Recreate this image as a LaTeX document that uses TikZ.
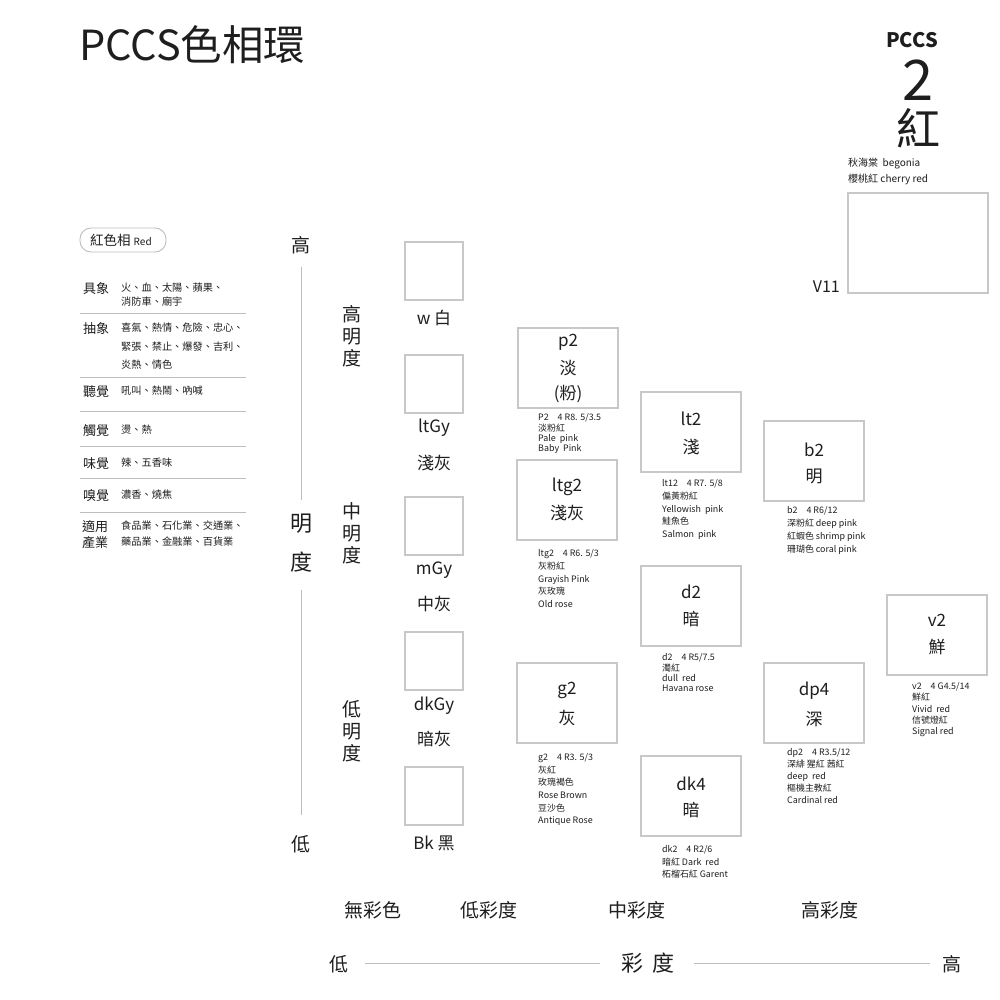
\documentclass[tikz,border=0pt]{standalone}
\usepackage{fontspec}
\setmainfont{Noto Sans CJK TC}
\definecolor{ink}{HTML}{1E1E1E}
\definecolor{bx}{HTML}{C8C8C8}
\definecolor{ln}{HTML}{BDBDBD}
\begin{document}
\begin{tikzpicture}[x=1pt,y=-1pt,
  cbox/.style={draw=bx, line width=1.1pt, minimum width=100pt, minimum height=80pt, inner sep=0},
  gbox/.style={draw=bx, line width=1.1pt, minimum width=58pt, minimum height=58pt, inner sep=0},
  big/.style={font=\fontsize{17}{20}\selectfont, text=ink, inner sep=0},
  lbl/.style={font=\fontsize{8.9}{#1}\selectfont, text=ink, align=left, anchor=north west, inner sep=0},
  lbl/.default=12.5,
  key/.style={font=\fontsize{13}{15}\selectfont, text=ink, anchor=west, inner sep=0},
  body/.style={font=\fontsize{10.2}{#1}\selectfont, text=ink, align=left, anchor=north west, inner sep=0},
  body/.default=14,
  sepl/.style={draw=ln, line width=0.8pt},
  axis/.style={draw=ln, line width=0.9pt},
  vt/.style={font=\fontsize{19}{22}\selectfont, text=ink, align=center, inner sep=0},
  axt/.style={font=\fontsize{19}{22}\selectfont, text=ink, inner sep=0},
  axb/.style={font=\fontsize{22}{26}\selectfont, text=ink, inner sep=0},
  bt/.style={font=\fontsize{19}{22}\selectfont, text=ink, inner sep=0}]
\useasboundingbox[fill=white] (0,0) rectangle (1000,1000);

% title
\node[anchor=west, inner sep=0, text=ink, font=\fontsize{41.5}{46}\selectfont] (title) at (79,45) {PCCS色相環};
% top right
\node[inner sep=0, text=ink, font=\fontsize{20}{22}\bfseries] (pccs) at (912,40) {PCCS};
\node[inner sep=0, text=ink, font=\fontsize{56}{60}\selectfont] (num) at (918,80) {2};
\node[inner sep=0, text=ink, font=\fontsize{44}{48}\selectfont] (hue) at (918,128) {紅};
\node[body=16, font=\fontsize{10}{16}\selectfont] (names) at (848,157.5) {秋海棠\ \ begonia\\櫻桃紅 cherry red};
\node[draw=bx, line width=1.1pt, minimum width=140pt, minimum height=100pt, inner sep=0] (v11box) at (918,243) {};
\node[anchor=east, inner sep=0, text=ink, font=\fontsize{16}{18}\selectfont] (v11) at (840,287) {V11};

% left panel
\node[draw=ln, line width=0.9pt, rounded corners=11pt, minimum width=86pt, minimum height=24pt, inner sep=0] (pill) at (123,240) {};
\node[anchor=west, inner sep=0, text=ink, font=\fontsize{13.5}{15}\selectfont] (pillt) at (90,240) {紅色相 {\fontsize{10}{12}\selectfont Red}};

\node[key] (k1) at (83,289) {具象};
\node[body=14] (b1) at (121,283) {火、血、太陽、蘋果、\\消防車、廟宇};
\draw[sepl] (80,313) -- (246,313);
\node[key] (k2) at (83,329) {抽象};
\node[body=18.5] (b2t) at (121,323) {喜氣、熱情、危險、忠心、\\緊張、禁止、爆發、吉利、\\炎熱、情色};
\draw[sepl] (80,377) -- (246,377);
\node[key] (k3) at (83,392) {聽覺};
\node[body] (b3) at (121,386) {吼叫、熱鬧、吶喊};
\draw[sepl] (80,411) -- (246,411);
\node[key] (k4) at (83,431) {觸覺};
\node[body] (b4) at (121,425) {燙、熱};
\draw[sepl] (80,446) -- (246,446);
\node[key] (k5) at (83,464) {味覺};
\node[body] (b5) at (121,458) {辣、五香味};
\draw[sepl] (80,478) -- (246,478);
\node[key] (k6) at (83,496) {嗅覺};
\node[body] (b6) at (121,490) {濃香、燒焦};
\draw[sepl] (80,512) -- (246,512);
\node[key, align=left, anchor=north west, font=\fontsize{13}{16}\selectfont] (k7) at (82,520) {適用\\產業};
\node[body=16] (b7) at (121,521) {食品業、石化業、交通業、\\藥品業、金融業、百貨業};

% lightness axis
\node[axt] (hi) at (301,245) {高};
\node[axb, align=center, font=\fontsize{22}{39}\selectfont] (mingdu) at (301,543) {明\\度};
\node[axt] (lo) at (301,844) {低};
\coordinate (a1) at (301,267);
\coordinate (a2) at (301,500);
\coordinate (a3) at (301,590);
\coordinate (a4) at (301,815);
\draw[axis] (a1) -- (a2);
\draw[axis] (a3) -- (a4);

\node[vt] (hl) at (352,336) {高\\明\\度};
\node[vt] (ml) at (352,533) {中\\明\\度};
\node[vt] (ll) at (352,731) {低\\明\\度};

% achromatic boxes
\node[gbox] (w) at (434,271) {};
\node[big] (wt) at (434,318) {w 白};
\node[gbox] (ltgy) at (434,384) {};
\node[big] (ltgyt) at (434,428) {ltGy};
\node[big] (ltgyc) at (434,463) {淺灰};
\node[gbox] (mgy) at (434,526) {};
\node[big] (mgyt) at (434,570) {mGy};
\node[big] (mgyc) at (434,604) {中灰};
\node[gbox] (dkgy) at (434,661) {};
\node[big] (dkgyt) at (434,706) {dkGy};
\node[big] (dkgyc) at (434,739) {暗灰};
\node[gbox] (bk) at (434,796) {};
\node[big] (bkt) at (434,843) {Bk 黑};

% chromatic boxes
\node[cbox] (p2) at (568,368) {};
\node[big] (p2a) at (568,342) {p2};
\node[big] (p2b) at (568,368) {淡};
\node[big] (p2c) at (568,394) {(粉)};
\node[lbl=10.3] (p2l) at (538,413.5) {P2\quad 4 R8. 5/3.5\\淡粉紅\\Pale\ \ pink\\Baby\ \ Pink};

\node[cbox] (ltg2) at (567,500) {};
\node[big] (ltg2a) at (567,487) {ltg2};
\node[big] (ltg2b) at (567,513) {淺灰};
\node[lbl=12.7] (ltg2l) at (538,549.5) {ltg2\quad 4 R6. 5/3\\灰粉紅\\Grayish Pink\\灰玫瑰\\Old rose};

\node[cbox] (g2) at (567,703) {};
\node[big] (g2a) at (567,690) {g2};
\node[big] (g2b) at (567,718) {灰};
\node[lbl=12.6] (g2l) at (538,753.5) {g2\quad 4 R3. 5/3\\灰紅\\玫瑰褐色\\Rose Brown\\豆沙色\\Antique Rose};

\node[cbox] (lt2) at (691,432) {};
\node[big] (lt2a) at (691,419) {lt2};
\node[big] (lt2b) at (691,447) {淺};
\node[lbl=12.7] (lt2l) at (662,479.5) {lt12\quad 4 R7. 5/8\\偏黃粉紅\\Yellowish\ \ pink\\鮭魚色\\Salmon\ \ pink};

\node[cbox] (d2) at (691,606) {};
\node[big] (d2a) at (691,592) {d2};
\node[big] (d2b) at (691,619) {暗};
\node[lbl=10.3] (d2l) at (662,653.5) {d2\quad 4 R5/7.5\\濁紅\\dull\ \ red\\Havana rose};

\node[cbox] (dk4) at (691,796) {};
\node[big] (dk4a) at (691,784) {dk4};
\node[big] (dk4b) at (691,810) {暗};
\node[lbl=12.5] (dk4l) at (662,845.5) {dk2\quad 4 R2/6\\暗紅 Dark\ \ red\\柘榴石紅 Garent};

\node[cbox] (b2) at (814,461) {};
\node[big] (b2a) at (814,450) {b2};
\node[big] (b2b) at (814,476) {明};
\node[lbl=13] (b2l) at (787,506.5) {b2\quad 4 R6/12\\深粉紅 deep pink\\紅蝦色 shrimp pink\\珊瑚色 coral pink};

\node[cbox] (dp4) at (814,703) {};
\node[big] (dp4a) at (814,691) {dp4};
\node[big] (dp4b) at (814,719) {深};
\node[lbl=12] (dp4l) at (787,748.5) {dp2\quad 4 R3.5/12\\深緋 猩紅 茜紅\\deep\ \ red\\樞機主教紅\\Cardinal red};

\node[cbox] (v2) at (937,635) {};
\node[big] (v2a) at (937,620) {v2};
\node[big] (v2b) at (937,647) {鮮};
\node[lbl=11.2] (v2l) at (912,682.5) {v2\quad 4 G4.5/14\\鮮紅\\Vivid\ \ red\\信號燈紅\\Signal red};

% chroma labels
\node[bt] (c0) at (373,910) {無彩色};
\node[bt] (c1) at (489,910) {低彩度};
\node[bt] (c2) at (637,910) {中彩度};
\node[bt] (c3) at (830,910) {高彩度};

\node[axt] (clo) at (339,964) {低};
\node[axb] (cdu) at (648,963) {彩\ \,度};
\node[axt] (chi) at (952,964) {高};
\coordinate (h1) at (365,963);
\coordinate (h2) at (600,963);
\coordinate (h3) at (694,963);
\coordinate (h4) at (930,963);
\draw[axis] (h1) -- (h2);
\draw[axis] (h3) -- (h4);
\end{tikzpicture}
\end{document}
